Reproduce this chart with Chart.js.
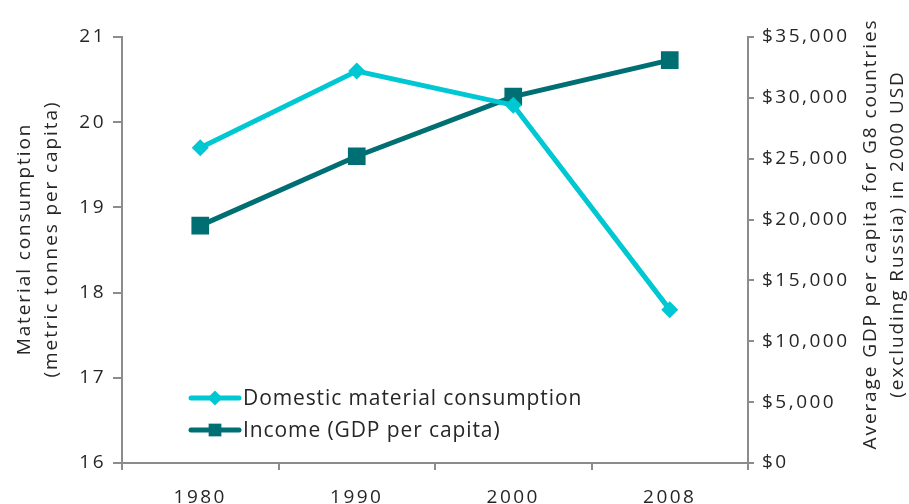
<!DOCTYPE html>
<html>
<head>
<meta charset="utf-8">
<script src="https://cdn.jsdelivr.net/npm/chart.js@4"></script>
<style>
  html, body { margin: 0; padding: 0; background: #fff; }
  #wrap { width: 909px; height: 504px; }
</style>
</head>
<body>
<div id="wrap"><canvas id="chart" width="909" height="504"></canvas></div>
<script>
const years = ['1980', '1990', '2000', '2008'];
const materialConsumption = [19.7, 20.6, 20.2, 17.8];
const gdpPerCapita = [19500, 25200, 30100, 33100];
const leftTitle = ['Material consumption', '(metric tonnes per capita)'];
const rightTitle = ['Average GDP per capita for G8 countries', '(excluding Russia) in 2000 USD'];

const cyan = 'rgb(0, 200, 211)';
const teal = 'rgb(0, 111, 116)';
const axisGray = '#8c8c8c';
const textColor = '#262626';
const fontFamily = '"Open Sans", sans-serif';

// the original font is wider than Open Sans, so space the letters a bit
const tickSpacing = {
  id: 'tickSpacing',
  beforeDraw(chart) {
    chart.ctx.letterSpacing = '2.5px';
  }
};

// legend drawn inside the plot, bottom left
const insideLegend = {
  id: 'insideLegend',
  afterDraw(chart) {
    const ctx = chart.ctx;
    const rows = [398, 430];
    const sizes = [7.5, 9];
    ctx.save();
    chart.data.datasets.forEach(function(ds, i) {
      const y = rows[i];
      ctx.strokeStyle = ds.borderColor;
      ctx.lineWidth = 5;
      ctx.lineCap = 'round';
      ctx.beginPath();
      ctx.moveTo(191, y);
      ctx.lineTo(239, y);
      ctx.stroke();
      ctx.fillStyle = ds.backgroundColor;
      Chart.helpers.drawPoint(ctx, {
        pointStyle: ds.pointStyle,
        radius: sizes[i],
        rotation: 0,
        borderWidth: 0
      }, 215, y);
      ctx.fillStyle = textColor;
      ctx.letterSpacing = '0.9px';
      ctx.font = '21px ' + fontFamily;
      ctx.textBaseline = 'middle';
      ctx.textAlign = 'left';
      ctx.fillText(ds.label, 243, y + 1);
    });
    ctx.restore();
  }
};

// both axis titles read bottom to top
const axisTitles = {
  id: 'axisTitles',
  afterDraw(chart) {
    const ctx = chart.ctx;
    function drawTitle(lines, x, y) {
      ctx.save();
      ctx.translate(x, y);
      ctx.rotate(-Math.PI / 2);
      ctx.fillStyle = textColor;
      ctx.letterSpacing = '1.9px';
      ctx.font = '19px ' + fontFamily;
      ctx.textAlign = 'center';
      ctx.textBaseline = 'middle';
      ctx.fillText(lines[0], 0, 0);
      ctx.fillText(lines[1], 0, 27);
      ctx.restore();
    }
    drawTitle(leftTitle, 25, 239);
    drawTitle(rightTitle, 871, 234);
  }
};

new Chart(document.getElementById('chart'), {
  type: 'line',
  data: {
    labels: years,
    datasets: [
      {
        label: 'Domestic material consumption',
        data: materialConsumption,
        yAxisID: 'y',
        borderColor: cyan,
        backgroundColor: cyan,
        borderWidth: 5,
        pointStyle: 'rectRot',
        pointRadius: 8.5,
        pointBorderWidth: 0,
        tension: 0
      },
      {
        label: 'Income (GDP per capita)',
        data: gdpPerCapita,
        yAxisID: 'y1',
        borderColor: teal,
        backgroundColor: teal,
        borderWidth: 5,
        pointStyle: 'rect',
        pointRadius: 12.5,
        pointBorderWidth: 0,
        tension: 0
      }
    ]
  },
  options: {
    responsive: false,
    animation: false,
    layout: { padding: { top: 37, left: 0, right: 0, bottom: 0 } },
    plugins: {
      legend: { display: false },
      tooltip: { enabled: false }
    },
    scales: {
      x: {
        offset: true,
        grid: {
          offset: true,
          drawOnChartArea: false,
          color: axisGray,
          lineWidth: 2,
          tickLength: 7
        },
        border: { color: axisGray, width: 2 },
        ticks: {
          color: textColor,
          font: { family: fontFamily, size: 19 },
          padding: 16,
          maxRotation: 0
        },
        afterFit(scale) { scale.height = 41; }
      },
      y: {
        position: 'left',
        min: 16,
        max: 21,
        ticks: {
          stepSize: 1,
          color: textColor,
          font: { family: fontFamily, size: 19 },
          padding: 7
        },
        grid: {
          drawOnChartArea: false,
          color: axisGray,
          lineWidth: 2,
          tickLength: 9
        },
        border: { color: axisGray, width: 2 },
        afterFit(scale) { scale.width = 122; }
      },
      y1: {
        position: 'right',
        min: 0,
        max: 35000,
        ticks: {
          stepSize: 5000,
          color: textColor,
          font: { family: fontFamily, size: 19 },
          padding: 8,
          callback: function(v) { return '$' + v.toLocaleString('en-US'); }
        },
        grid: {
          drawOnChartArea: false,
          color: axisGray,
          lineWidth: 2,
          tickLength: 6
        },
        border: { color: axisGray, width: 2 },
        afterFit(scale) { scale.width = 161; }
      }
    }
  },
  plugins: [tickSpacing, insideLegend, axisTitles]
});
</script>
</body>
</html>
